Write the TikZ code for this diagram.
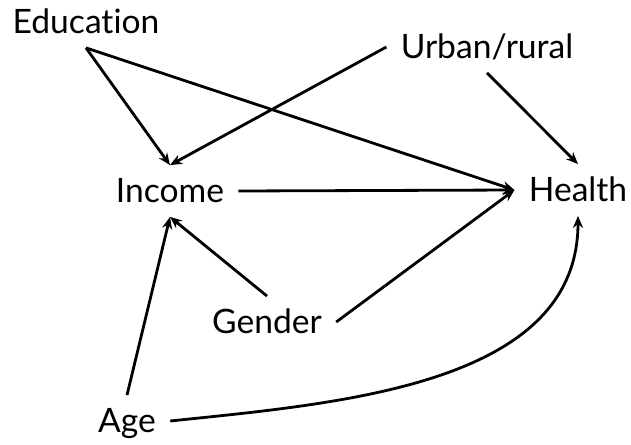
\documentclass[tikz,border=0pt]{standalone}
\usepackage{fontspec}
\setmainfont{Lato}[Ligatures=NoCommon]
\usetikzlibrary{arrows.meta}
\begin{document}
\begin{tikzpicture}[x=0.5pt,y=-0.5pt,
    var/.style={font=\fontsize{16.8}{20}\selectfont, text height=11.5pt, text depth=0pt, inner sep=7pt},
    link/.style={-{Stealth[length=6pt,width=5pt]}, line width=1.4pt}]
    \useasboundingbox (0,0) rectangle (631,444);
    % variables
    \node[var] (edu) at (86,22) {Education};
    \node[var] (urb) at (487,47) {Urban/rural};
    \node[var] (inc) at (170,191) {Income};
    \node[var] (hea) at (578,190) {Health};
    \node[var] (gen) at (267,322) {Gender};
    \node[var] (age) at (127,421) {Age};
    % causal links
    \draw[link] (edu.south) -- (inc.north);
    \draw[link] (edu.south) -- (hea.west);
    \draw[link] (urb.west) -- (inc.north);
    \draw[link] (urb.south) -- (hea.north);
    \draw[link] (inc.east) -- (hea.west);
    \draw[link] (gen.north) -- (inc.south);
    \draw[link] (gen.east) -- (hea.west);
    \draw[link] (age.north) -- (inc.south);
    % age acts on health directly
    \draw[link] (age.east) to[out=6,in=-90,looseness=0.95] (hea.south);
\end{tikzpicture}
\end{document}
